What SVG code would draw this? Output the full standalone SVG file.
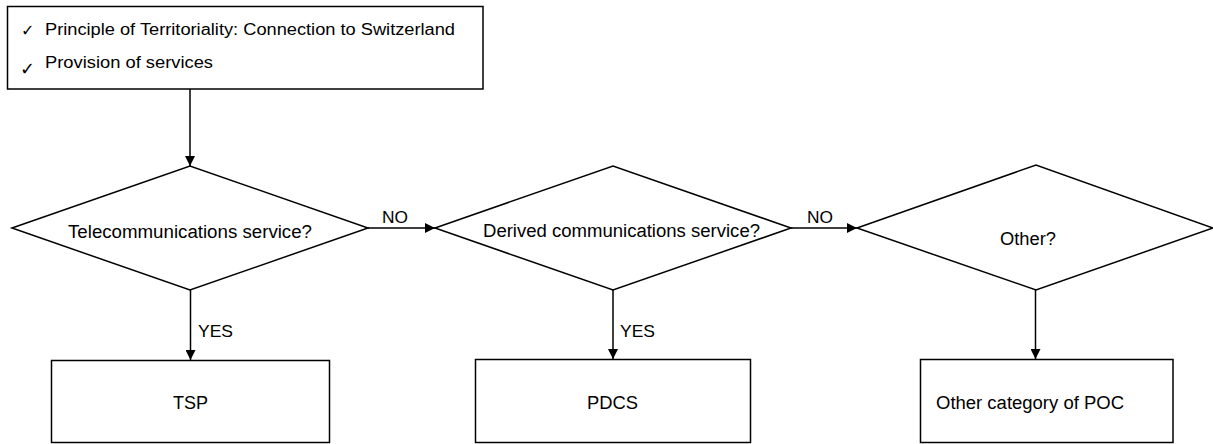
<svg xmlns="http://www.w3.org/2000/svg" width="1213" height="444" viewBox="0 0 1213 444">
<style>
.shape{fill:#fff;stroke:#000;stroke-width:1.5}
.t{font-family:"Liberation Sans",Arial,sans-serif;fill:#000}
.c{stroke:#000;stroke-width:1.5;fill:none}
.chk{font-family:"DejaVu Sans",sans-serif;fill:#000}
</style>
<defs>
<marker id="ah" viewBox="0 0 10 10" refX="10" refY="5" markerWidth="10" markerHeight="10" markerUnits="userSpaceOnUse" orient="auto">
<path d="M0,0 L10,5 L0,10 z" fill="#000"/>
</marker>
</defs>
<rect width="1213" height="444" fill="#fff"/>
<g id="connectors">
<line class="c" x1="190" y1="89" x2="190" y2="166" marker-end="url(#ah)"/>
<line class="c" x1="368" y1="228" x2="435" y2="228" marker-end="url(#ah)"/>
<line class="c" x1="791" y1="228" x2="857" y2="228" marker-end="url(#ah)"/>
<line class="c" x1="190.5" y1="290" x2="190.5" y2="360" marker-end="url(#ah)"/>
<line class="c" x1="613" y1="290" x2="613" y2="359" marker-end="url(#ah)"/>
<line class="c" x1="1035.5" y1="290" x2="1035.5" y2="359" marker-end="url(#ah)"/>
<text class="t" x="382" y="223" font-size="17" textLength="26" lengthAdjust="spacingAndGlyphs">NO</text>
<text class="t" x="807" y="223" font-size="17" textLength="26" lengthAdjust="spacingAndGlyphs">NO</text>
<text class="t" x="198" y="337" font-size="17" textLength="35" lengthAdjust="spacingAndGlyphs">YES</text>
<text class="t" x="620" y="337" font-size="17" textLength="35" lengthAdjust="spacingAndGlyphs">YES</text>
</g>
<g id="start">
<rect class="shape" x="7.5" y="6.5" width="475.5" height="82.5"/>
<text class="chk" x="21" y="36" font-size="16">✓</text>
<text class="chk" x="20" y="75" font-size="18">✓</text>
<text class="t" x="45" y="35" font-size="16" textLength="410" lengthAdjust="spacingAndGlyphs">Principle of Territoriality: Connection to Switzerland</text>
<text class="t" x="45" y="68" font-size="16" textLength="168" lengthAdjust="spacingAndGlyphs">Provision of services</text>
</g>
<g id="q-telecom">
<polygon class="shape" points="12,228 190,166 368,228 190,290"/>
<text class="t" x="68" y="238" font-size="18" textLength="244" lengthAdjust="spacingAndGlyphs">Telecommunications service?</text>
</g>
<g id="q-derived">
<polygon class="shape" points="435,228 613,166 791,228 613,290"/>
<text class="t" x="483" y="237" font-size="18" textLength="277" lengthAdjust="spacingAndGlyphs">Derived communications service?</text>
</g>
<g id="q-other">
<polygon class="shape" points="857,228 1036,165 1213,228 1036,290"/>
<text class="t" x="1000" y="245" font-size="18" textLength="56" lengthAdjust="spacingAndGlyphs">Other?</text>
</g>
<g id="tsp">
<rect class="shape" x="51.5" y="360.5" width="278" height="82"/>
<text class="t" x="173" y="409" font-size="18" textLength="35" lengthAdjust="spacingAndGlyphs">TSP</text>
</g>
<g id="pdcs">
<rect class="shape" x="475.5" y="359.5" width="275" height="83"/>
<text class="t" x="587" y="409" font-size="18" textLength="51" lengthAdjust="spacingAndGlyphs">PDCS</text>
</g>
<g id="poc">
<rect class="shape" x="920.5" y="359.5" width="252.5" height="83"/>
<text class="t" x="936" y="409" font-size="18" textLength="188" lengthAdjust="spacingAndGlyphs">Other category of POC</text>
</g>
</svg>
